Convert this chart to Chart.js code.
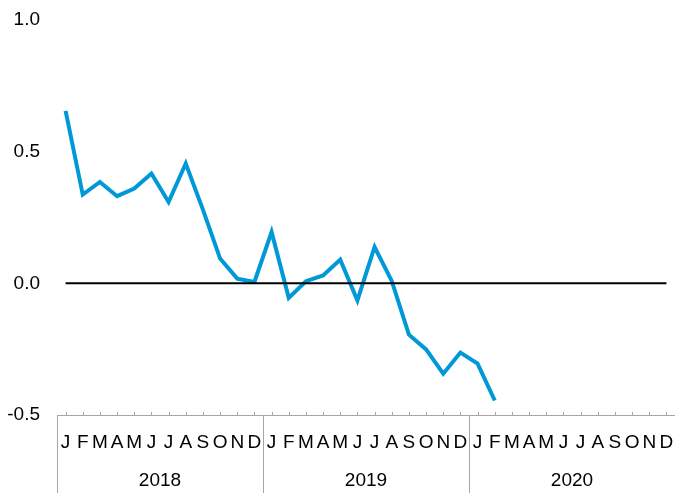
<!DOCTYPE html>
<html>
<head>
<meta charset="utf-8">
<script src="https://cdn.jsdelivr.net/npm/chart.js@4/dist/chart.umd.min.js"></script>
<style>
  html, body { margin: 0; padding: 0; background: #fff; }
  #wrap { width: 675px; height: 493px; }
</style>
</head>
<body>
<div id="wrap"><canvas id="main-chart"></canvas></div>
<script>
const monthLetters = ['J', 'F', 'M', 'A', 'M', 'J', 'J', 'A', 'S', 'O', 'N', 'D'];
const years = ['2018', '2019', '2020'];
const yTicks = [-0.5, 0.0, 0.5, 1.0];

const values2018 = [0.655, 0.337, 0.385, 0.331, 0.36, 0.417, 0.309, 0.455, 0.28, 0.094, 0.018, 0.005];
const values2019 = [0.195, -0.055, 0.008, 0.03, 0.09, -0.065, 0.138, 0.009, -0.195, -0.251, -0.343, -0.263];
const values2020 = [-0.305, -0.445, null, null, null, null, null, null, null, null, null, null];

const labels = [];
years.forEach(() => monthLetters.forEach(m => labels.push(m)));
const values = values2018.concat(values2019, values2020);

const axisGray = '#a6a6a6';
const fontFamily = '"Liberation Sans", Arial, sans-serif';

// zero line, month ticks, year separators and year labels
const axisExtras = {
    id: 'axisExtras',
    afterDatasetsDraw(chart) {
        const x = chart.scales.x;
        const y = chart.scales.y;
        const ctx = chart.ctx;
        const y0 = y.getPixelForValue(0);
        ctx.save();
        ctx.strokeStyle = '#000';
        ctx.lineWidth = 2;
        ctx.beginPath();
        ctx.moveTo(x.getPixelForValue(0), y0);
        ctx.lineTo(x.getPixelForValue(labels.length - 1), y0);
        ctx.stroke();
        ctx.restore();
    },
    afterDraw(chart) {
        const x = chart.scales.x;
        const ctx = chart.ctx;
        const bottom = chart.chartArea.bottom;
        const half = (x.getPixelForValue(1) - x.getPixelForValue(0)) / 2;
        ctx.save();
        ctx.strokeStyle = axisGray;
        ctx.lineWidth = 1;
        ctx.beginPath();
        ctx.moveTo(chart.chartArea.left, bottom + 0.5);
        ctx.lineTo(chart.chartArea.right, bottom + 0.5);
        for (let i = 0; i < labels.length; i++) {
            const px = Math.round(x.getPixelForValue(i)) + 0.5;
            ctx.moveTo(px, bottom - 3);
            ctx.lineTo(px, bottom);
        }
        for (let k = 0; k <= years.length; k++) {
            const px = Math.round(x.getPixelForValue(k * 12) - half) + 0.5;
            ctx.moveTo(px, bottom);
            ctx.lineTo(px, chart.height);
        }
        ctx.stroke();
        ctx.fillStyle = '#000';
        ctx.font = '19px ' + fontFamily;
        ctx.textAlign = 'center';
        ctx.textBaseline = 'middle';
        years.forEach((yr, k) => {
            const mid = (x.getPixelForValue(k * 12) + x.getPixelForValue(k * 12 + 11)) / 2;
            ctx.fillText(yr, mid, bottom + 66);
        });
        ctx.restore();
    }
};

const mainConfig = {
    type: 'line',
    data: {
        labels: labels,
        datasets: [{
            data: values,
            borderColor: 'rgb(0, 152, 214)',
            borderWidth: 4,
            pointRadius: 0,
            tension: 0,
            spanGaps: false,
        }]
    },
    options: {
        responsive: true,
        maintainAspectRatio: false,
        animation: false,
        layout: { padding: { top: 20, right: 0, left: 0, bottom: 0 } },
        plugins: {
            legend: { display: false },
            tooltip: { enabled: false },
        },
        scales: {
            x: {
                type: 'category',
                offset: true,
                grid: { display: false, drawTicks: false },
                border: { display: false },
                ticks: {
                    autoSkip: false,
                    maxRotation: 0,
                    padding: 16,
                    color: '#000',
                    font: { family: fontFamily, size: 19 },
                },
                afterFit(scale) {
                    scale.height = 78;
                    scale.paddingLeft = 0;
                    scale.paddingRight = 0;
                },
            },
            y: {
                min: -0.5,
                max: 1.0,
                afterBuildTicks(scale) { scale.ticks = yTicks.map(v => ({ value: v })); },
                grid: { display: false, drawTicks: false },
                border: { display: false },
                ticks: {
                    padding: 17,
                    color: '#000',
                    font: { family: fontFamily, size: 19 },
                    callback: v => v.toFixed(1),
                },
                afterFit(scale) {
                    scale.width = 57;
                    scale.paddingTop = 0;
                    scale.paddingBottom = 0;
                },
            }
        }
    },
    plugins: [axisExtras]
};

const mainChart = new Chart(document.getElementById('main-chart'), mainConfig);
</script>
</body>
</html>
